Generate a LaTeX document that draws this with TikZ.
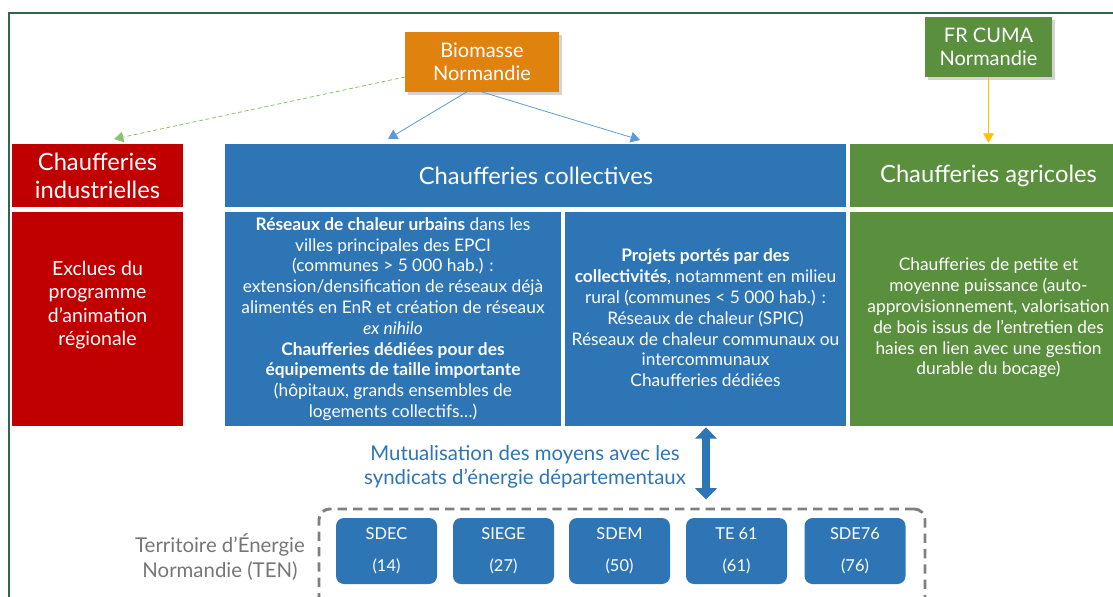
\documentclass[tikz,border=0pt]{standalone}
\usepackage{fontspec}
\setmainfont{Lato}
\usetikzlibrary{fit,shadows,arrows.meta,calc}
\definecolor{cred}{RGB}{192,0,0}
\definecolor{cblue}{RGB}{46,117,182}
\definecolor{cgreen}{RGB}{90,143,62}
\definecolor{corange}{RGB}{224,130,14}
\definecolor{cframe}{RGB}{46,104,76}
\definecolor{cyellow}{RGB}{255,192,0}
\definecolor{clightgreen}{RGB}{140,195,110}
\definecolor{clightblue}{RGB}{91,155,213}
\definecolor{cgray}{RGB}{128,128,128}
\definecolor{cgraytext}{RGB}{118,118,118}
\begin{document}
\begin{tikzpicture}[x=0.75pt,y=-0.75pt,
  panel/.style={inner sep=0pt, outer sep=0pt, text=white, align=center},
  hdr/.style={panel, font=\fontsize{17.8}{21}\selectfont},
  bodytxt/.style={panel, font=\fontsize{13}{15.6}\selectfont},
  topbox/.style={panel,
    drop shadow={shadow xshift=2.5pt, shadow yshift=-2.5pt, opacity=0.35}},
  toptxt/.style={panel, font=\fontsize{15}{17.5}\selectfont},
  orgbox/.style={fill=cblue, text=white, rounded corners=6pt, minimum width=75.75pt,
    minimum height=49.5pt, inner sep=0pt, align=center, font=\fontsize{12.3}{24}\selectfont},
  thinarrow/.style={-{Triangle[width=8pt,length=7pt]}, line width=0.6pt},
  dblarrow/.style={cblue, line width=6pt, {Triangle[width=16pt,length=8.5pt]}-{Triangle[width=16pt,length=8.5pt]}}
]
\useasboundingbox (0,0) rectangle (1113,596);
% frame
\draw[cframe, line width=1.6pt] (9,610) -- (9,13) -- (1125,13);

% top boxes
\node[topbox, fill=corange, fit={(405,32) (559,92)}] (bio) {};
\node[toptxt] (biot) at (482,62) {Biomasse\\Normandie};
\node[topbox, fill=cgreen, fit={(925,17) (1052,77)}] (cuma) {};
\node[toptxt] (cumat) at (988.5,47) {FR CUMA\\Normandie};

% headers
\node[panel, fill=cred, fit={(12,144) (183,207)}] (rh) {};
\node[hdr] (rht) at (97.5,176) {Chaufferies\\industrielles};
\node[panel, fill=cblue, fit={(225,144) (846,207)}] (bh) {};
\node[hdr] (bht) at (536,176) {Chaufferies collectives};
\node[panel, fill=cgreen, fit={(850,144) (1127,207)}] (gh) {};
\node[hdr] (ght) at (988.5,176) {Chaufferies agricoles};

% bodies
\node[panel, fill=cred, fit={(12,212) (183,426)}] (rb) {};
\node[panel, font=\fontsize{14.6}{17.5}\selectfont] (rbt) at (97.5,305) {Exclues du\\programme\\d’animation\\régionale};
\node[panel, fill=cblue, fit={(225,212) (561,426)}] (bl) {};
\node[bodytxt] (blt) at (393,319) {\textbf{Réseaux de chaleur urbains} dans les\\
villes principales des EPCI\\
(communes > 5 000 hab.) :\\
extension/densification de réseaux déjà\\
alimentés en EnR et création de réseaux\\
\textit{ex nihilo}\\
\textbf{Chaufferies dédiées pour des}\\
\textbf{équipements de taille importante}\\
(hôpitaux, grands ensembles de\\
logements collectifs…)};
\node[panel, fill=cblue, fit={(565,212) (846,426)}] (br) {};
\node[bodytxt] (brt) at (705.5,318) {\textbf{Projets portés par des}\\
\textbf{collectivités}, notamment en milieu\\
rural (communes < 5 000 hab.) :\\
Réseaux de chaleur (SPIC)\\
Réseaux de chaleur communaux ou\\
intercommunaux\\
Chaufferies dédiées};
\node[panel, fill=cgreen, fit={(850,212) (1127,426)}] (gb) {};
\node[bodytxt] (gbt) at (988.5,318) {Chaufferies de petite et\\
moyenne puissance (auto-\\
approvisionnement, valorisation\\
de bois issus de l’entretien des\\
haies en lien avec une gestion\\
durable du bocage)};

% arrows from top boxes
\coordinate (t0) at (114,139);
\coordinate (t1) at (388,139);
\coordinate (t2) at (640,140);
\draw[thinarrow, clightgreen, dashed, dash pattern=on 3pt off 2pt] ($(bio.north west)!0.75!(bio.south west)$) -- (t0);
\draw[thinarrow, clightblue] ($(bio.south west)!0.4!(bio.south east)$) -- (t1);
\draw[thinarrow, clightblue] ($(bio.south west)!0.5!(bio.south east)$) -- (t2);
\draw[thinarrow, cyellow] (cuma.south) -- ([yshift=1pt]gh.north -| cuma.south);

% lower part
\node[text=cblue, align=center, font=\fontsize{15.3}{18}\selectfont] (mut) at (525,467)
  {Mutualisation des moyens avec les\\syndicats d’énergie départementaux};
\node[draw=cgray, line width=2.2pt, dash pattern=on 7pt off 4.5pt, rounded corners=8pt,
  inner sep=0pt, fit={(319,509) (925,630)}] (ten) {};
\coordinate (ax) at (706,0);
\draw[dblarrow] ([yshift=-1pt]br.south -| ax) -- ([yshift=6pt]ten.north -| ax);
\node[text=cgraytext, align=center, font=\fontsize{15.3}{18.75}\selectfont] (tenl) at (220,557)
  {Territoire d’Énergie\\Normandie (TEN)};

\node[orgbox] (s14) at (386.5,551) {SDEC\\(14)};
\node[orgbox] (s27) at (503.5,551) {SIEGE\\(27)};
\node[orgbox] (s50) at (619.5,551) {SDEM\\(50)};
\node[orgbox] (s61) at (736.5,551) {TE 61\\(61)};
\node[orgbox] (s76) at (855,551) {SDE76\\(76)};
\end{tikzpicture}
\end{document}
